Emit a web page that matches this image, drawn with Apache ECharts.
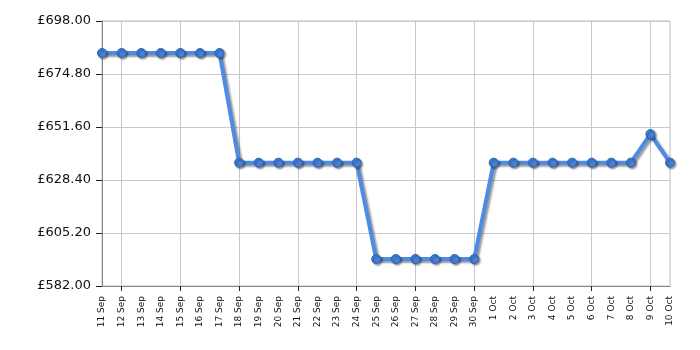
<!DOCTYPE html>
<html>
<head>
<meta charset="utf-8">
<script src="https://cdn.jsdelivr.net/npm/echarts@6/dist/echarts.min.js"></script>
<style>html,body{margin:0;padding:0;background:#fff}#c{width:700px;height:350px}</style>
</head>
<body>
<div id="c"></div>
<script>
const categories = ['11 Sep','12 Sep','13 Sep','14 Sep','15 Sep','16 Sep','17 Sep','18 Sep','19 Sep','20 Sep','21 Sep','22 Sep','23 Sep','24 Sep','25 Sep','26 Sep','27 Sep','28 Sep','29 Sep','30 Sep','1 Oct','2 Oct','3 Oct','4 Oct','5 Oct','6 Oct','7 Oct','8 Oct','9 Oct','10 Oct'];
const prices = [683.99,683.99,683.99,683.99,683.99,683.99,683.99,635.99,635.99,635.99,635.99,635.99,635.99,635.99,593.8,593.8,593.8,593.8,593.8,593.8,635.99,635.99,635.99,635.99,635.99,635.99,635.99,635.99,648.5,635.99];
const yMin = 582, yMax = 698, yStep = 23.2;

const chart = echarts.init(document.getElementById('c'), null, {renderer:'canvas'});
chart.setOption({
  animation: false,
  grid: {left: 102, right: 30, top: 21, bottom: 64, show: true, borderColor: '#bbb', borderWidth: 1},
  xAxis: {
    type: 'category', data: categories, boundaryGap: false,
    axisLine: {lineStyle: {color: '#888', width: 1}},
    axisTick: {show: true, interval: (i) => i % 3 === 1, length: 5, lineStyle: {color: '#222'}},
    splitLine: {show: true, interval: (i) => i % 3 === 1, lineStyle: {color: '#c8c8c8', width: 1}},
    axisLabel: {interval: 0, rotate: 90, fontFamily: 'DejaVu Sans', fontSize: 9, color: '#111', margin: 10}
  },
  yAxis: {
    type: 'value', min: yMin, max: yMax, interval: yStep,
    axisLine: {show: true, lineStyle: {color: '#888', width: 1}},
    axisTick: {show: true, length: 6, lineStyle: {color: '#222'}},
    splitLine: {show: true, lineStyle: {color: '#c8c8c8', width: 1}},
    axisLabel: {fontFamily: 'DejaVu Sans', fontSize: 13, color: '#111', margin: 11,
      formatter: (v) => '£' + v.toFixed(2)}
  },
  series: [{
    type: 'line', data: prices,
    symbol: 'circle', symbolSize: 9,
    lineStyle: {color: '#4d8ce6', width: 4, shadowColor: 'rgba(0,0,0,0.4)', shadowBlur: 2, shadowOffsetX: 2, shadowOffsetY: 2},
    itemStyle: {color: '#4480d8', borderColor: '#2f64b0', borderWidth: 1, shadowColor: 'rgba(0,0,0,0.4)', shadowBlur: 2, shadowOffsetX: 1.5, shadowOffsetY: 1.5}
  }]
});
</script>
</body>
</html>
